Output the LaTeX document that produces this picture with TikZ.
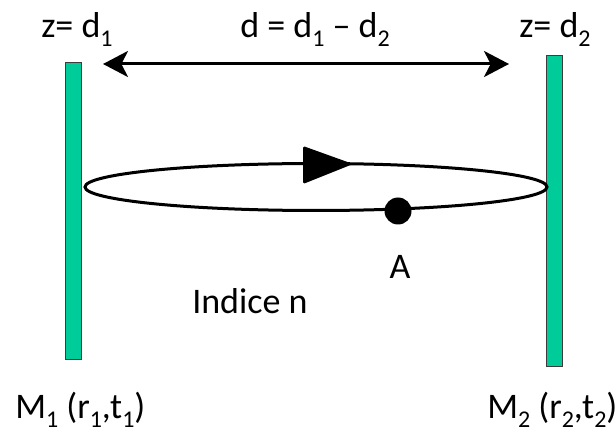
\documentclass[tikz,border=0pt]{standalone}
\usepackage{fontspec}
\setmainfont{Carlito}
\usetikzlibrary{arrows.meta,shapes.geometric}
\definecolor{mirror}{RGB}{0,204,153}
\definecolor{mirrorborder}{RGB}{60,60,60}
\newcommand\sbs[1]{\raisebox{-6.75pt}{\fontsize{18}{18}\selectfont #1}}
\begin{document}
\begin{tikzpicture}[x=0.75pt,y=-0.75pt,
  lbl/.style={font=\fontsize{27}{27}\selectfont, inner sep=0pt},
  mirrorbar/.style={draw=mirrorborder, line width=0.75pt, fill=mirror, inner sep=0pt, minimum width=12pt},
  bigarrow/.style={line width=2.25pt, {Stealth[length=18.75pt,width=19.5pt,inset=5pt]}-{Stealth[length=18.75pt,width=19.5pt,inset=5pt]}}]
\path[use as bounding box, fill=white] (0,0) rectangle (616,434);
% mirrors
\node[mirrorbar, minimum height=222pt] (m1) at (73,211) {};
\node[mirrorbar, minimum height=232.5pt] (m2) at (554,211) {};
% distance arrow
\coordinate (al) at (103,64);
\coordinate (ar) at (509,64);
\draw[bigarrow] (al) -- (ar);
% cavity loop
\node[ellipse, draw, line width=2.25pt, inner sep=0pt, minimum width=346.5pt, minimum height=35.25pt] (loop) at (316,187) {};
\fill[rounded corners=1.2pt] (303,146) -- (353,164) -- (303,184) -- cycle;
\node[circle, fill=black, inner sep=0pt, minimum size=20.25pt] (pa) at (398,211) {};
% labels
\node[lbl, anchor=base west] (z1) at (41,38) {z= d\sbs{1}};
\node[lbl, anchor=base] (dd) at (315,38) {d = d\sbs{1} – d\sbs{2}};
\node[lbl, anchor=base west] (z2) at (519,38) {z= d\sbs{2}};
\node[lbl, anchor=base] (la) at (400,278) {A};
\node[lbl, anchor=base west] (ind) at (192,313) {Indice n};
\node[lbl, anchor=base west] (lm1) at (15,418) {M\sbs{1} (r\sbs{1},t\sbs{1})};
\node[lbl, anchor=base west] (lm2) at (487,418) {M\sbs{2} (r\sbs{2},t\sbs{2})};
\end{tikzpicture}
\end{document}
